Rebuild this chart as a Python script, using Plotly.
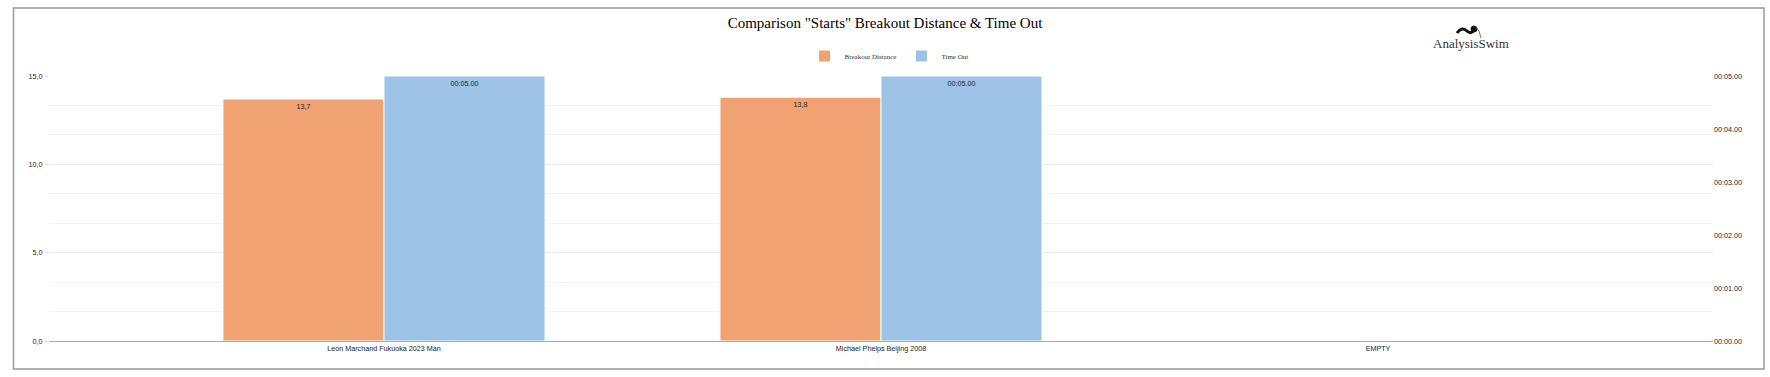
import plotly.graph_objects as go

# ---- data ----
categories = ["Leon Marchand Fukuoka 2023 Man", "Michael Phelps Beijing 2008", "EMPTY"]
breakout_distance = [13.7, 13.8, None]
time_out_sec = [5.0, 5.0, None]
y2_tick_secs = [0, 1, 2, 3, 4, 5]


def fmt_time(s):
    m = int(s // 60)
    return f"{m:02d}:{s - 60 * m:05.2f}"


bd_text = [("" if v is None else f"{v:.1f}".replace(".", ",")) for v in breakout_distance]
to_text = [("" if v is None else fmt_time(v)) for v in time_out_sec]

FS = 7.2
fig = go.Figure()
fig.add_trace(go.Bar(
    name="Breakout Distance", x=categories, y=breakout_distance,
    marker=dict(color="#F0A272", line=dict(color="white", width=1)),
    text=bd_text, textposition="inside", insidetextanchor="end",
    textfont=dict(size=FS, color="#222", family="Liberation Sans"),
    offsetgroup="a", yaxis="y",
))
fig.add_trace(go.Bar(
    name="Time Out", x=categories, y=time_out_sec,
    marker=dict(color="#9DC3E6", line=dict(color="white", width=1)),
    text=to_text, textposition="inside", insidetextanchor="end",
    textfont=dict(size=FS, color="#222", family="Liberation Sans"),
    offsetgroup="b", yaxis="y2",
))

L, R, T, B = 49, 1713, 76, 341
PW, PH = R - L, B - T
fig.update_layout(
    width=1770, height=377,
    paper_bgcolor="white", plot_bgcolor="white",
    margin=dict(l=L, r=1770 - R, t=T, b=377 - B, autoexpand=False),
    separators=",.",
    barmode="group", bargap=0.352, bargroupgap=0.0,
    title=dict(text='Comparison "Starts" Breakout Distance &amp; Time Out',
               x=0.5, xanchor="center", y=1 - 23 / 377, yanchor="middle",
               font=dict(family="Liberation Serif", size=15, color="#000")),
    showlegend=True,
    legend=dict(orientation="h", x=(889 - L) / PW, xanchor="center",
                y=1 + (T - 56) / PH, yanchor="middle",
                font=dict(family="Liberation Serif", size=7, color="#333"),
                itemwidth=30, bgcolor="rgba(0,0,0,0)"),
    xaxis=dict(type="category", range=[-0.674, 2.674],
               showline=True, linecolor="#aaa", linewidth=1,
               ticks="", tickfont=dict(family="Liberation Sans", size=FS, color="#222"),
               showgrid=False, fixedrange=True),
    yaxis=dict(range=[0, 15], dtick=5, tick0=0, tickformat=".1f",
               showgrid=True, gridcolor="#ececec", gridwidth=1,
               minor=dict(dtick=5 / 3, tick0=0, showgrid=True, gridcolor="#f3f3f3"),
               ticks="outside", ticklen=4, tickcolor="#ddd",
               tickfont=dict(family="Liberation Sans", size=FS, color="#222"),
               zeroline=False, showline=False, fixedrange=True),
    yaxis2=dict(overlaying="y", side="right", range=[0, 5],
                tickvals=y2_tick_secs, ticktext=[fmt_time(s) for s in y2_tick_secs],
                showgrid=False, zeroline=False, showline=False,
                ticks="", tickfont=dict(family="Liberation Sans", size=FS, color="#222"),
                fixedrange=True),
)

# outer border
fig.add_shape(type="rect", xref="paper", yref="paper",
              x0=(13.5 - L) / PW, x1=(1764 - L) / PW, y0=-(369 - B) / PH, y1=1 + (T - 8) / PH,
              line=dict(color="#999", width=1.5), fillcolor="rgba(0,0,0,0)", layer="below")

# logo
fig.add_annotation(text="AnalysisSwim", xref="paper", yref="paper",
                   x=(1471 - L) / PW, y=1 + (T - 43) / PH, xanchor="center", yanchor="middle",
                   showarrow=False, font=dict(family="Liberation Serif", size=13, color="#333"))
fig.add_shape(type="path", xref="paper", yref="paper",
              path=" ".join([
                  f"M {(1457-L)/PW},{1+(T-33)/PH}",
                  f"Q {(1462-L)/PW},{1+(T-26)/PH} {(1467-L)/PW},{1+(T-31)/PH}",
                  f"Q {(1471-L)/PW},{1+(T-35)/PH} {(1475-L)/PW},{1+(T-29)/PH}",
              ]),
              line=dict(color="#111", width=3), fillcolor="rgba(0,0,0,0)")
fig.add_shape(type="circle", xref="paper", yref="paper",
              x0=(1471-L)/PW, x1=(1477-L)/PW, y0=1+(T-32)/PH, y1=1+(T-26)/PH,
              line=dict(color="#111", width=1), fillcolor="#111")
fig.add_shape(type="path", xref="paper", yref="paper",
              path=f"M {(1475-L)/PW},{1+(T-26)/PH} Q {(1480-L)/PW},{1+(T-30)/PH} {(1481-L)/PW},{1+(T-38)/PH}",
              line=dict(color="#555", width=0.8), fillcolor="rgba(0,0,0,0)")

fig.write_html("out.html", config={"displayModeBar": False},
               post_script="document.body.style.margin='0';document.body.style.overflow='hidden';")
